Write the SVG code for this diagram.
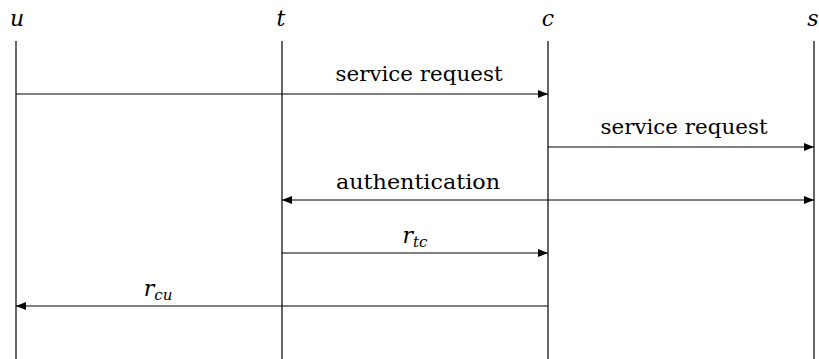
<svg xmlns="http://www.w3.org/2000/svg" width="819" height="359" viewBox="0 0 819 359">
<style>
.life{stroke:#000;stroke-width:1.2;fill:none}
.msg{stroke:#000;stroke-width:1;fill:none}
</style>
<defs>
<marker id="ah" viewBox="0 0 10 8" refX="10" refY="4" markerWidth="10" markerHeight="8" markerUnits="userSpaceOnUse" orient="auto-start-reverse">
<path d="M0,0 L10,4 L0,8 Z" fill="#000"/>
</marker>
</defs>
<g font-family="DejaVu Serif, serif" fill="#000" text-anchor="middle">
<g id="node-u"><text font-style="italic" font-size="22" x="17" y="26">u</text><line class="life" x1="16" y1="41" x2="16" y2="359"/></g>
<g id="node-t"><text font-style="italic" font-size="22" x="281" y="26">t</text><line class="life" x1="282" y1="41" x2="282" y2="359"/></g>
<g id="node-c"><text font-style="italic" font-size="22" x="548" y="26">c</text><line class="life" x1="548" y1="41" x2="548" y2="359"/></g>
<g id="node-s"><text font-style="italic" font-size="22" x="813" y="26">s</text><line class="life" x1="814" y1="41" x2="814" y2="359"/></g>
<g id="connectors">
<line class="msg" x1="16" y1="94" x2="548" y2="94" marker-end="url(#ah)"/>
<text font-size="20" x="419" y="81" textLength="167" lengthAdjust="spacingAndGlyphs">service request</text>
<line class="msg" x1="548" y1="147" x2="814" y2="147" marker-end="url(#ah)"/>
<text font-size="20" x="684" y="134" textLength="167" lengthAdjust="spacingAndGlyphs">service request</text>
<line class="msg" x1="282" y1="200" x2="814" y2="200" marker-start="url(#ah)" marker-end="url(#ah)"/>
<text font-size="20" x="418" y="189" textLength="164" lengthAdjust="spacingAndGlyphs">authentication</text>
<line class="msg" x1="282" y1="253" x2="548" y2="253" marker-end="url(#ah)"/>
<text font-style="italic" font-size="22" x="415" y="243">r<tspan font-size="15" dy="4">tc</tspan></text>
<line class="msg" x1="548" y1="306" x2="16" y2="306" marker-end="url(#ah)"/>
<text font-style="italic" font-size="22" x="158" y="296">r<tspan font-size="15" dy="4">cu</tspan></text>
</g>
</g>
</svg>
